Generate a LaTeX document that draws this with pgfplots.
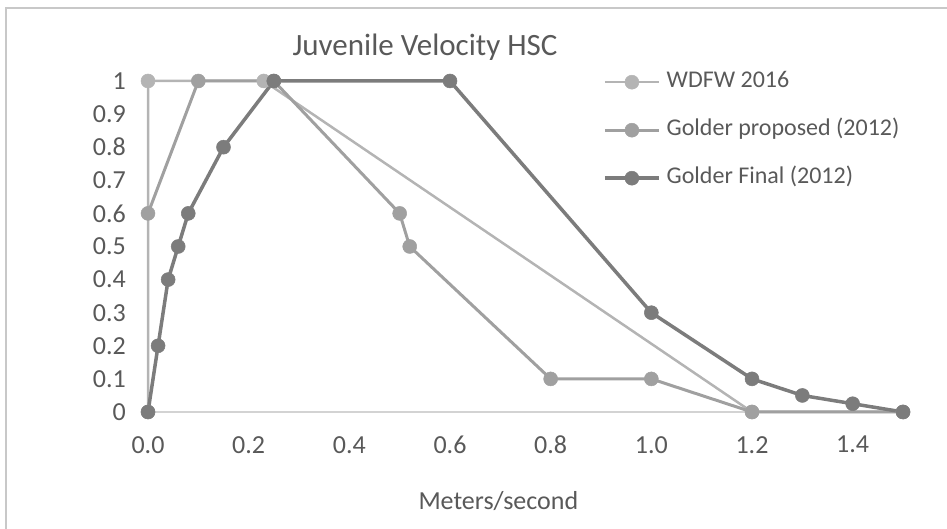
\documentclass[border=0pt]{standalone}
\usepackage{pgfplots}
\pgfplotsset{compat=1.18}
\usepackage{fontspec}
\setmainfont{Carlito}

\definecolor{wdfw}{HTML}{B4B4B4}
\definecolor{gprop}{HTML}{A0A0A0}
\definecolor{gfinal}{HTML}{7C7C7C}
\definecolor{txt}{HTML}{595959}
\definecolor{axln}{HTML}{D3D3D3}
\definecolor{frame}{HTML}{C8C8C8}

\newcommand{\ticksize}{\fontsize{26}{30}\selectfont}
\newcommand{\legsize}{\fontsize{24}{28}\selectfont}

\begin{document}
\begin{tikzpicture}[x=1pt,y=1pt]
\useasboundingbox (0,0) rectangle (947,529);
% chart area frame (top and left edges)
\draw[frame,line width=1.2pt] (6,-5) -- (6,521) -- (955,521);
% chart title
\node[txt,font=\fontsize{31}{36}\selectfont,anchor=base] at (425,473) {Juvenile Velocity HSC};

\begin{axis}[
  at={(148pt,117pt)}, anchor=south west,
  scale only axis, width=755pt, height=331pt,
  xmin=0, xmax=1.5, ymin=0, ymax=1,
  clip=false,
  axis x line*=bottom, axis y line*=left,
  x axis line style={draw=axln,line width=1.5pt,-},
  y axis line style={draw=none},
  major tick length=0pt,
  xtick={0,0.2,0.4,0.6,0.8,1.0,1.2,1.4},
  xticklabels={0.0,0.2,0.4,0.6,0.8,1.0,1.2,1.4},
  ytick={0,0.1,0.2,0.3,0.4,0.5,0.6,0.7,0.8,0.9,1},
  yticklabels={0,0.1,0.2,0.3,0.4,0.5,0.6,0.7,0.8,0.9,1},
  /pgf/number format/assume math mode=true,
  xticklabel style={font=\ticksize,text=txt,inner sep=0pt,anchor=north,yshift=-24pt},
  yticklabel style={font=\ticksize,text=txt,inner sep=0pt,anchor=east,xshift=-22pt},
  xlabel={Meters/second},
  xlabel style={font=\ticksize,text=txt,at={(axis description cs:0.464,-0.268)},anchor=center},
  legend cell align=left,
  legend style={at={(axis description cs:0.6026,1.0287)},anchor=north west,
    draw=none,fill=none,inner sep=0pt,font=\legsize,text=txt,
    row sep=27pt,column sep=6pt,
    nodes={inner sep=0pt,text height=16pt,text depth=5pt}},
  legend image code/.code={%
    \draw[mark repeat=2,mark phase=2,#1] plot coordinates {(0pt,0pt) (27pt,0pt) (54pt,0pt)};},
]
\addplot[wdfw,line width=2.5pt,mark=*,mark size=7pt,mark options={fill=wdfw,draw=wdfw,line width=0.5pt}]
  coordinates {(0,0) (0,1) (0.23,1) (1.2,0) (1.5,0)};
\addlegendentry{WDFW 2016}
\addplot[gprop,line width=3pt,mark=*,mark size=7pt,mark options={fill=gprop,draw=gprop,line width=0.5pt}]
  coordinates {(0,0.6) (0.1,1) (0.25,1) (0.5,0.6) (0.52,0.5) (0.8,0.1) (1.0,0.1) (1.2,0) (1.5,0)};
\addlegendentry{Golder proposed (2012)}
\addplot[gfinal,line width=3.5pt,mark=*,mark size=7pt,mark options={fill=gfinal,draw=gfinal,line width=0.5pt}]
  coordinates {(0,0) (0.02,0.2) (0.04,0.4) (0.06,0.5) (0.08,0.6) (0.15,0.8) (0.25,1) (0.6,1) (1.0,0.3) (1.2,0.1) (1.3,0.05) (1.4,0.025) (1.5,0)};
\addlegendentry{Golder Final (2012)}
\end{axis}
\end{tikzpicture}
\end{document}
